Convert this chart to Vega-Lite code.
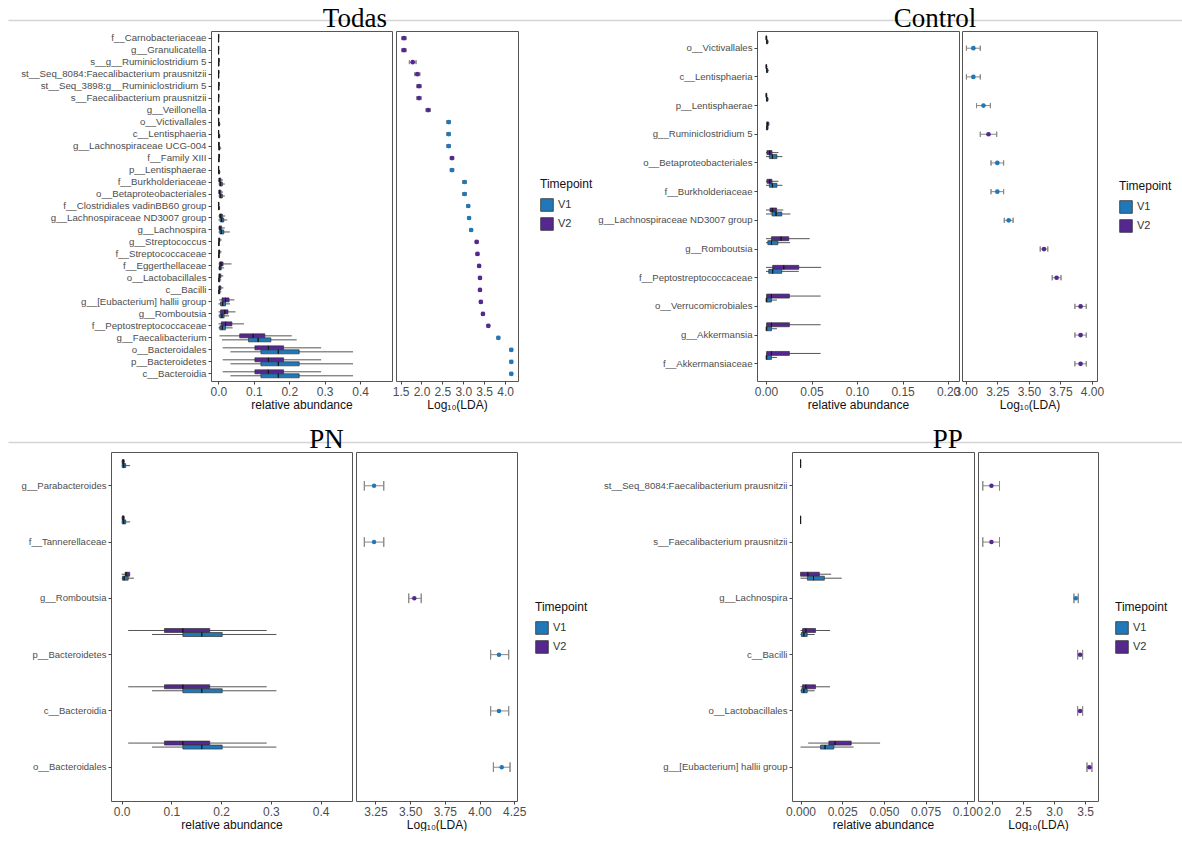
{
  "$schema": "https://vega.github.io/schema/vega-lite/v6.json",
  "padding": {"left": 8, "top": 4, "right": 0, "bottom": 0},
  "background": "white",
  "datasets": {
    "todas_box": [
      {"taxon": "f__Carnobacteriaceae", "tp": "V2", "min": 0, "q1": 0, "med": 0.0005, "q3": 0.001, "max": 0.002},
      {"taxon": "f__Carnobacteriaceae", "tp": "V1", "min": 0, "q1": 0, "med": 0.0003, "q3": 0.0008, "max": 0.0015},
      {"taxon": "g__Granulicatella", "tp": "V2", "min": 0, "q1": 0, "med": 0.0005, "q3": 0.001, "max": 0.002},
      {"taxon": "g__Granulicatella", "tp": "V1", "min": 0, "q1": 0, "med": 0.0003, "q3": 0.0008, "max": 0.0015},
      {"taxon": "s__g__Ruminiclostridium 5", "tp": "V2", "min": 0, "q1": 0.0005, "med": 0.001, "q3": 0.002, "max": 0.004},
      {"taxon": "s__g__Ruminiclostridium 5", "tp": "V1", "min": 0, "q1": 0, "med": 0.0005, "q3": 0.0015, "max": 0.003},
      {"taxon": "st__Seq_8084:Faecalibacterium prausnitzii", "tp": "V2", "min": 0, "q1": 0, "med": 0.0005, "q3": 0.0015, "max": 0.003},
      {"taxon": "st__Seq_8084:Faecalibacterium prausnitzii", "tp": "V1", "min": 0, "q1": 0, "med": 0.0003, "q3": 0.001, "max": 0.002},
      {"taxon": "st__Seq_3898:g__Ruminiclostridium 5", "tp": "V2", "min": 0, "q1": 0.0005, "med": 0.001, "q3": 0.002, "max": 0.004},
      {"taxon": "st__Seq_3898:g__Ruminiclostridium 5", "tp": "V1", "min": 0, "q1": 0, "med": 0.0005, "q3": 0.0015, "max": 0.003},
      {"taxon": "s__Faecalibacterium prausnitzii", "tp": "V2", "min": 0, "q1": 0, "med": 0.0005, "q3": 0.0015, "max": 0.003},
      {"taxon": "s__Faecalibacterium prausnitzii", "tp": "V1", "min": 0, "q1": 0, "med": 0.0003, "q3": 0.001, "max": 0.002},
      {"taxon": "g__Veillonella", "tp": "V2", "min": 0, "q1": 0.0005, "med": 0.001, "q3": 0.003, "max": 0.005},
      {"taxon": "g__Veillonella", "tp": "V1", "min": 0, "q1": 0, "med": 0.0005, "q3": 0.002, "max": 0.004},
      {"taxon": "o__Victivallales", "tp": "V2", "min": 0, "q1": 0, "med": 0.0003, "q3": 0.001, "max": 0.002},
      {"taxon": "o__Victivallales", "tp": "V1", "min": 0, "q1": 0.0005, "med": 0.001, "q3": 0.003, "max": 0.006},
      {"taxon": "c__Lentisphaeria", "tp": "V2", "min": 0, "q1": 0, "med": 0.0003, "q3": 0.001, "max": 0.002},
      {"taxon": "c__Lentisphaeria", "tp": "V1", "min": 0, "q1": 0.0005, "med": 0.001, "q3": 0.003, "max": 0.006},
      {"taxon": "g__Lachnospiraceae UCG-004", "tp": "V2", "min": 0, "q1": 0.0005, "med": 0.001, "q3": 0.002, "max": 0.004},
      {"taxon": "g__Lachnospiraceae UCG-004", "tp": "V1", "min": 0, "q1": 0.001, "med": 0.002, "q3": 0.004, "max": 0.008},
      {"taxon": "f__Family XIII", "tp": "V2", "min": 0, "q1": 0.001, "med": 0.002, "q3": 0.003, "max": 0.005},
      {"taxon": "f__Family XIII", "tp": "V1", "min": 0, "q1": 0.0005, "med": 0.001, "q3": 0.002, "max": 0.004},
      {"taxon": "p__Lentisphaerae", "tp": "V2", "min": 0, "q1": 0, "med": 0.0003, "q3": 0.001, "max": 0.002},
      {"taxon": "p__Lentisphaerae", "tp": "V1", "min": 0, "q1": 0.0005, "med": 0.001, "q3": 0.003, "max": 0.006},
      {"taxon": "f__Burkholderiaceae", "tp": "V2", "min": 0, "q1": 0.001, "med": 0.003, "q3": 0.007, "max": 0.013},
      {"taxon": "f__Burkholderiaceae", "tp": "V1", "min": 0, "q1": 0.003, "med": 0.006, "q3": 0.011, "max": 0.018},
      {"taxon": "o__Betaproteobacteriales", "tp": "V2", "min": 0, "q1": 0.001, "med": 0.003, "q3": 0.007, "max": 0.013},
      {"taxon": "o__Betaproteobacteriales", "tp": "V1", "min": 0, "q1": 0.003, "med": 0.006, "q3": 0.011, "max": 0.018},
      {"taxon": "f__Clostridiales vadinBB60 group", "tp": "V2", "min": 0, "q1": 0, "med": 0.0005, "q3": 0.001, "max": 0.003},
      {"taxon": "f__Clostridiales vadinBB60 group", "tp": "V1", "min": 0, "q1": 0.0005, "med": 0.001, "q3": 0.002, "max": 0.005},
      {"taxon": "g__Lachnospiraceae ND3007 group", "tp": "V2", "min": 0, "q1": 0.003, "med": 0.006, "q3": 0.011, "max": 0.019},
      {"taxon": "g__Lachnospiraceae ND3007 group", "tp": "V1", "min": 0, "q1": 0.005, "med": 0.009, "q3": 0.015, "max": 0.025},
      {"taxon": "g__Lachnospira", "tp": "V2", "min": 0, "q1": 0.002, "med": 0.004, "q3": 0.009, "max": 0.018},
      {"taxon": "g__Lachnospira", "tp": "V1", "min": 0, "q1": 0.004, "med": 0.008, "q3": 0.015, "max": 0.032},
      {"taxon": "g__Streptococcus", "tp": "V2", "min": 0, "q1": 0.001, "med": 0.002, "q3": 0.004, "max": 0.009},
      {"taxon": "g__Streptococcus", "tp": "V1", "min": 0, "q1": 0.0005, "med": 0.001, "q3": 0.002, "max": 0.004},
      {"taxon": "f__Streptococcaceae", "tp": "V2", "min": 0, "q1": 0.001, "med": 0.002, "q3": 0.004, "max": 0.009},
      {"taxon": "f__Streptococcaceae", "tp": "V1", "min": 0, "q1": 0.0005, "med": 0.001, "q3": 0.002, "max": 0.004},
      {"taxon": "f__Eggerthellaceae", "tp": "V2", "min": 0, "q1": 0.003, "med": 0.007, "q3": 0.013, "max": 0.037},
      {"taxon": "f__Eggerthellaceae", "tp": "V1", "min": 0, "q1": 0.002, "med": 0.004, "q3": 0.008, "max": 0.016},
      {"taxon": "o__Lactobacillales", "tp": "V2", "min": 0, "q1": 0.001, "med": 0.003, "q3": 0.007, "max": 0.014},
      {"taxon": "o__Lactobacillales", "tp": "V1", "min": 0, "q1": 0.0005, "med": 0.0015, "q3": 0.004, "max": 0.008},
      {"taxon": "c__Bacilli", "tp": "V2", "min": 0, "q1": 0.001, "med": 0.003, "q3": 0.007, "max": 0.014},
      {"taxon": "c__Bacilli", "tp": "V1", "min": 0, "q1": 0.0005, "med": 0.0015, "q3": 0.004, "max": 0.008},
      {"taxon": "g__[Eubacterium] hallii group", "tp": "V2", "min": 0.002, "q1": 0.01, "med": 0.02, "q3": 0.03, "max": 0.045},
      {"taxon": "g__[Eubacterium] hallii group", "tp": "V1", "min": 0, "q1": 0.006, "med": 0.012, "q3": 0.02, "max": 0.033},
      {"taxon": "g__Romboutsia", "tp": "V2", "min": 0, "q1": 0.006, "med": 0.018, "q3": 0.027, "max": 0.048},
      {"taxon": "g__Romboutsia", "tp": "V1", "min": 0, "q1": 0.004, "med": 0.01, "q3": 0.016, "max": 0.03},
      {"taxon": "f__Peptostreptococcaceae", "tp": "V2", "min": 0, "q1": 0.008, "med": 0.02, "q3": 0.038, "max": 0.072},
      {"taxon": "f__Peptostreptococcaceae", "tp": "V1", "min": 0, "q1": 0.004, "med": 0.011, "q3": 0.02, "max": 0.04},
      {"taxon": "g__Faecalibacterium", "tp": "V2", "min": 0.003, "q1": 0.06, "med": 0.098, "q3": 0.131, "max": 0.207},
      {"taxon": "g__Faecalibacterium", "tp": "V1", "min": 0.01, "q1": 0.085, "med": 0.112, "q3": 0.148, "max": 0.221},
      {"taxon": "o__Bacteroidales", "tp": "V2", "min": 0.012, "q1": 0.103, "med": 0.141, "q3": 0.184, "max": 0.29},
      {"taxon": "o__Bacteroidales", "tp": "V1", "min": 0.034, "q1": 0.12, "med": 0.169, "q3": 0.228, "max": 0.38},
      {"taxon": "p__Bacteroidetes", "tp": "V2", "min": 0.012, "q1": 0.103, "med": 0.141, "q3": 0.184, "max": 0.29},
      {"taxon": "p__Bacteroidetes", "tp": "V1", "min": 0.034, "q1": 0.12, "med": 0.169, "q3": 0.228, "max": 0.38},
      {"taxon": "c__Bacteroidia", "tp": "V2", "min": 0.012, "q1": 0.103, "med": 0.141, "q3": 0.184, "max": 0.29},
      {"taxon": "c__Bacteroidia", "tp": "V1", "min": 0.034, "q1": 0.12, "med": 0.169, "q3": 0.228, "max": 0.38}
    ],
    "todas_lda": [
      {"taxon": "f__Carnobacteriaceae", "tp": "V2", "lda": 1.58, "lo": 1.53, "hi": 1.63},
      {"taxon": "g__Granulicatella", "tp": "V2", "lda": 1.58, "lo": 1.53, "hi": 1.63},
      {"taxon": "s__g__Ruminiclostridium 5", "tp": "V2", "lda": 1.79, "lo": 1.71, "hi": 1.87},
      {"taxon": "st__Seq_8084:Faecalibacterium prausnitzii", "tp": "V2", "lda": 1.9, "lo": 1.84, "hi": 1.96},
      {"taxon": "st__Seq_3898:g__Ruminiclostridium 5", "tp": "V2", "lda": 1.94, "lo": 1.89, "hi": 1.99},
      {"taxon": "s__Faecalibacterium prausnitzii", "tp": "V2", "lda": 1.94, "lo": 1.89, "hi": 1.99},
      {"taxon": "g__Veillonella", "tp": "V2", "lda": 2.16, "lo": 2.11, "hi": 2.21},
      {"taxon": "o__Victivallales", "tp": "V1", "lda": 2.65, "lo": 2.61, "hi": 2.69},
      {"taxon": "c__Lentisphaeria", "tp": "V1", "lda": 2.65, "lo": 2.61, "hi": 2.69},
      {"taxon": "g__Lachnospiraceae UCG-004", "tp": "V1", "lda": 2.65, "lo": 2.61, "hi": 2.69},
      {"taxon": "f__Family XIII", "tp": "V2", "lda": 2.73, "lo": 2.69, "hi": 2.77},
      {"taxon": "p__Lentisphaerae", "tp": "V1", "lda": 2.73, "lo": 2.69, "hi": 2.77},
      {"taxon": "f__Burkholderiaceae", "tp": "V1", "lda": 3.03, "lo": 2.99, "hi": 3.07},
      {"taxon": "o__Betaproteobacteriales", "tp": "V1", "lda": 3.03, "lo": 2.99, "hi": 3.07},
      {"taxon": "f__Clostridiales vadinBB60 group", "tp": "V1", "lda": 3.12, "lo": 3.09, "hi": 3.15},
      {"taxon": "g__Lachnospiraceae ND3007 group", "tp": "V1", "lda": 3.14, "lo": 3.11, "hi": 3.17},
      {"taxon": "g__Lachnospira", "tp": "V1", "lda": 3.19, "lo": 3.16, "hi": 3.22},
      {"taxon": "g__Streptococcus", "tp": "V2", "lda": 3.32, "lo": 3.29, "hi": 3.35},
      {"taxon": "f__Streptococcaceae", "tp": "V2", "lda": 3.34, "lo": 3.31, "hi": 3.37},
      {"taxon": "f__Eggerthellaceae", "tp": "V2", "lda": 3.38, "lo": 3.35, "hi": 3.41},
      {"taxon": "o__Lactobacillales", "tp": "V2", "lda": 3.4, "lo": 3.37, "hi": 3.43},
      {"taxon": "c__Bacilli", "tp": "V2", "lda": 3.4, "lo": 3.37, "hi": 3.43},
      {"taxon": "g__[Eubacterium] hallii group", "tp": "V2", "lda": 3.42, "lo": 3.39, "hi": 3.45},
      {"taxon": "g__Romboutsia", "tp": "V2", "lda": 3.47, "lo": 3.44, "hi": 3.5},
      {"taxon": "f__Peptostreptococcaceae", "tp": "V2", "lda": 3.6, "lo": 3.57, "hi": 3.63},
      {"taxon": "g__Faecalibacterium", "tp": "V1", "lda": 3.84, "lo": 3.81, "hi": 3.87},
      {"taxon": "o__Bacteroidales", "tp": "V1", "lda": 4.15, "lo": 4.12, "hi": 4.18},
      {"taxon": "p__Bacteroidetes", "tp": "V1", "lda": 4.15, "lo": 4.12, "hi": 4.18},
      {"taxon": "c__Bacteroidia", "tp": "V1", "lda": 4.15, "lo": 4.12, "hi": 4.18}
    ],
    "control_box": [
      {"taxon": "o__Victivallales", "tp": "V2", "min": 0, "q1": 0, "med": 0.0003, "q3": 0.0008, "max": 0.0015},
      {"taxon": "o__Victivallales", "tp": "V1", "min": 0, "q1": 0.0005, "med": 0.001, "q3": 0.002, "max": 0.003},
      {"taxon": "c__Lentisphaeria", "tp": "V2", "min": 0, "q1": 0, "med": 0.0003, "q3": 0.0008, "max": 0.0015},
      {"taxon": "c__Lentisphaeria", "tp": "V1", "min": 0, "q1": 0.0005, "med": 0.001, "q3": 0.002, "max": 0.003},
      {"taxon": "p__Lentisphaerae", "tp": "V2", "min": 0, "q1": 0, "med": 0.0003, "q3": 0.0008, "max": 0.0015},
      {"taxon": "p__Lentisphaerae", "tp": "V1", "min": 0, "q1": 0.0005, "med": 0.001, "q3": 0.002, "max": 0.003},
      {"taxon": "g__Ruminiclostridium 5", "tp": "V2", "min": 0, "q1": 0.0008, "med": 0.0015, "q3": 0.003, "max": 0.004},
      {"taxon": "g__Ruminiclostridium 5", "tp": "V1", "min": 0, "q1": 0.0005, "med": 0.001, "q3": 0.002, "max": 0.003},
      {"taxon": "o__Betaproteobacteriales", "tp": "V2", "min": 0, "q1": 0.001, "med": 0.004, "q3": 0.0066, "max": 0.0136},
      {"taxon": "o__Betaproteobacteriales", "tp": "V1", "min": 0, "q1": 0.0037, "med": 0.007, "q3": 0.012, "max": 0.018},
      {"taxon": "f__Burkholderiaceae", "tp": "V2", "min": 0, "q1": 0.001, "med": 0.004, "q3": 0.0066, "max": 0.0136},
      {"taxon": "f__Burkholderiaceae", "tp": "V1", "min": 0, "q1": 0.0037, "med": 0.007, "q3": 0.012, "max": 0.018},
      {"taxon": "g__Lachnospiraceae ND3007 group", "tp": "V2", "min": 0, "q1": 0.0044, "med": 0.007, "q3": 0.0117, "max": 0.019},
      {"taxon": "g__Lachnospiraceae ND3007 group", "tp": "V1", "min": 0, "q1": 0.0066, "med": 0.011, "q3": 0.0173, "max": 0.0268},
      {"taxon": "g__Romboutsia", "tp": "V2", "min": 0, "q1": 0.006, "med": 0.0165, "q3": 0.025, "max": 0.048},
      {"taxon": "g__Romboutsia", "tp": "V1", "min": 0, "q1": 0.002, "med": 0.006, "q3": 0.013, "max": 0.0264},
      {"taxon": "f__Peptostreptococcaceae", "tp": "V2", "min": 0, "q1": 0.0073, "med": 0.0195, "q3": 0.036, "max": 0.0606},
      {"taxon": "f__Peptostreptococcaceae", "tp": "V1", "min": 0, "q1": 0.003, "med": 0.0073, "q3": 0.0173, "max": 0.036},
      {"taxon": "o__Verrucomicrobiales", "tp": "V2", "min": 0, "q1": 0.0007, "med": 0.006, "q3": 0.0257, "max": 0.06},
      {"taxon": "o__Verrucomicrobiales", "tp": "V1", "min": 0, "q1": 0, "med": 0.0007, "q3": 0.006, "max": 0.012},
      {"taxon": "g__Akkermansia", "tp": "V2", "min": 0, "q1": 0.0007, "med": 0.006, "q3": 0.0257, "max": 0.06},
      {"taxon": "g__Akkermansia", "tp": "V1", "min": 0, "q1": 0, "med": 0.0007, "q3": 0.006, "max": 0.012},
      {"taxon": "f__Akkermansiaceae", "tp": "V2", "min": 0, "q1": 0.0007, "med": 0.006, "q3": 0.0257, "max": 0.06},
      {"taxon": "f__Akkermansiaceae", "tp": "V1", "min": 0, "q1": 0, "med": 0.0007, "q3": 0.006, "max": 0.012}
    ],
    "control_lda": [
      {"taxon": "o__Victivallales", "tp": "V1", "lda": 3.06, "lo": 3.005, "hi": 3.115},
      {"taxon": "c__Lentisphaeria", "tp": "V1", "lda": 3.06, "lo": 3.005, "hi": 3.115},
      {"taxon": "p__Lentisphaerae", "tp": "V1", "lda": 3.14, "lo": 3.085, "hi": 3.195},
      {"taxon": "g__Ruminiclostridium 5", "tp": "V2", "lda": 3.18, "lo": 3.115, "hi": 3.245},
      {"taxon": "o__Betaproteobacteriales", "tp": "V1", "lda": 3.25, "lo": 3.2, "hi": 3.3},
      {"taxon": "f__Burkholderiaceae", "tp": "V1", "lda": 3.25, "lo": 3.2, "hi": 3.3},
      {"taxon": "g__Lachnospiraceae ND3007 group", "tp": "V1", "lda": 3.34, "lo": 3.305, "hi": 3.375},
      {"taxon": "g__Romboutsia", "tp": "V2", "lda": 3.62, "lo": 3.59, "hi": 3.65},
      {"taxon": "f__Peptostreptococcaceae", "tp": "V2", "lda": 3.72, "lo": 3.685, "hi": 3.755},
      {"taxon": "o__Verrucomicrobiales", "tp": "V2", "lda": 3.91, "lo": 3.865, "hi": 3.955},
      {"taxon": "g__Akkermansia", "tp": "V2", "lda": 3.91, "lo": 3.865, "hi": 3.955},
      {"taxon": "f__Akkermansiaceae", "tp": "V2", "lda": 3.91, "lo": 3.865, "hi": 3.955}
    ],
    "pn_box": [
      {"taxon": "g__Parabacteroides", "tp": "V2", "min": 0, "q1": 0.001, "med": 0.003, "q3": 0.005, "max": 0.006},
      {"taxon": "g__Parabacteroides", "tp": "V1", "min": 0, "q1": 0.001, "med": 0.004, "q3": 0.008, "max": 0.017},
      {"taxon": "f__Tannerellaceae", "tp": "V2", "min": 0, "q1": 0.001, "med": 0.003, "q3": 0.005, "max": 0.006},
      {"taxon": "f__Tannerellaceae", "tp": "V1", "min": 0, "q1": 0.001, "med": 0.004, "q3": 0.008, "max": 0.017},
      {"taxon": "g__Romboutsia", "tp": "V2", "min": 0, "q1": 0.007, "med": 0.009, "q3": 0.016, "max": 0.017},
      {"taxon": "g__Romboutsia", "tp": "V1", "min": 0, "q1": 0.0015, "med": 0.005, "q3": 0.013, "max": 0.0246},
      {"taxon": "p__Bacteroidetes", "tp": "V2", "min": 0.013, "q1": 0.086, "med": 0.123, "q3": 0.177, "max": 0.2915},
      {"taxon": "p__Bacteroidetes", "tp": "V1", "min": 0.061, "q1": 0.123, "med": 0.161, "q3": 0.202, "max": 0.311},
      {"taxon": "c__Bacteroidia", "tp": "V2", "min": 0.013, "q1": 0.086, "med": 0.123, "q3": 0.177, "max": 0.2915},
      {"taxon": "c__Bacteroidia", "tp": "V1", "min": 0.061, "q1": 0.123, "med": 0.161, "q3": 0.202, "max": 0.311},
      {"taxon": "o__Bacteroidales", "tp": "V2", "min": 0.013, "q1": 0.086, "med": 0.123, "q3": 0.177, "max": 0.2915},
      {"taxon": "o__Bacteroidales", "tp": "V1", "min": 0.061, "q1": 0.123, "med": 0.161, "q3": 0.202, "max": 0.311}
    ],
    "pn_lda": [
      {"taxon": "g__Parabacteroides", "tp": "V1", "lda": 3.24, "lo": 3.17, "hi": 3.31},
      {"taxon": "f__Tannerellaceae", "tp": "V1", "lda": 3.24, "lo": 3.17, "hi": 3.31},
      {"taxon": "g__Romboutsia", "tp": "V2", "lda": 3.53, "lo": 3.49, "hi": 3.58},
      {"taxon": "p__Bacteroidetes", "tp": "V1", "lda": 4.14, "lo": 4.08, "hi": 4.21},
      {"taxon": "c__Bacteroidia", "tp": "V1", "lda": 4.14, "lo": 4.08, "hi": 4.21},
      {"taxon": "o__Bacteroidales", "tp": "V1", "lda": 4.16, "lo": 4.1, "hi": 4.22}
    ],
    "pp_box": [
      {"taxon": "st__Seq_8084:Faecalibacterium prausnitzii", "tp": "V2", "min": 0, "q1": 0, "med": 0, "q3": 0.0002, "max": 0.0004},
      {"taxon": "st__Seq_8084:Faecalibacterium prausnitzii", "tp": "V1", "min": 0, "q1": 0, "med": 0, "q3": 0.0002, "max": 0.0004},
      {"taxon": "s__Faecalibacterium prausnitzii", "tp": "V2", "min": 0, "q1": 0, "med": 0, "q3": 0.0002, "max": 0.0004},
      {"taxon": "s__Faecalibacterium prausnitzii", "tp": "V1", "min": 0, "q1": 0, "med": 0, "q3": 0.0002, "max": 0.0004},
      {"taxon": "g__Lachnospira", "tp": "V2", "min": 0, "q1": 0, "med": 0.0044, "q3": 0.0113, "max": 0.0184},
      {"taxon": "g__Lachnospira", "tp": "V1", "min": 0, "q1": 0.0041, "med": 0.0078, "q3": 0.0143, "max": 0.0247},
      {"taxon": "c__Bacilli", "tp": "V2", "min": 0, "q1": 0.0012, "med": 0.0032, "q3": 0.009, "max": 0.0177},
      {"taxon": "c__Bacilli", "tp": "V1", "min": 0, "q1": 0.0005, "med": 0.002, "q3": 0.004, "max": 0.0085},
      {"taxon": "o__Lactobacillales", "tp": "V2", "min": 0, "q1": 0.0012, "med": 0.0032, "q3": 0.009, "max": 0.0177},
      {"taxon": "o__Lactobacillales", "tp": "V1", "min": 0, "q1": 0.0005, "med": 0.002, "q3": 0.004, "max": 0.0085},
      {"taxon": "g__[Eubacterium] hallii group", "tp": "V2", "min": 0.0046, "q1": 0.017, "med": 0.0207, "q3": 0.0304, "max": 0.0477},
      {"taxon": "g__[Eubacterium] hallii group", "tp": "V1", "min": 0, "q1": 0.012, "med": 0.0147, "q3": 0.02, "max": 0.0318}
    ],
    "pp_lda": [
      {"taxon": "st__Seq_8084:Faecalibacterium prausnitzii", "tp": "V2", "lda": 1.99, "lo": 1.85, "hi": 2.12},
      {"taxon": "s__Faecalibacterium prausnitzii", "tp": "V2", "lda": 1.99, "lo": 1.85, "hi": 2.12},
      {"taxon": "g__Lachnospira", "tp": "V1", "lda": 3.35, "lo": 3.32, "hi": 3.39},
      {"taxon": "c__Bacilli", "tp": "V2", "lda": 3.42, "lo": 3.38, "hi": 3.46},
      {"taxon": "o__Lactobacillales", "tp": "V2", "lda": 3.42, "lo": 3.38, "hi": 3.46},
      {"taxon": "g__[Eubacterium] hallii group", "tp": "V2", "lda": 3.57, "lo": 3.53, "hi": 3.61}
    ],
    "line": [{"a": 0}, {"a": 1}]
  },
  "resolve": {"scale": {"color": "independent", "x": "independent"}, "legend": {"color": "independent"}},
  "columns": 1,
  "spacing": 14,
  "concat": [
    {
      "columns": 1,
      "spacing": -16,
      "resolve": {"scale": {"color": "independent", "x": "independent"}, "legend": {"color": "independent"}},
      "concat": [
        {
          "width": 1174, "height": 1,
          "view": {"stroke": null},
          "data": {"name": "line"},
          "mark": {"type": "point", "opacity": 0, "size": 0},
          "encoding": {"x": {"field": "a", "type": "quantitative", "scale": {"domain": [0, 1], "nice": false}, "axis": {"orient": "bottom", "domain": true, "domainColor": "#d4d4d4", "domainWidth": 1.5, "ticks": false, "labels": false, "title": null}}}
        },
        {
          "spacing": 0,
          "resolve": {"scale": {"color": "independent"}, "legend": {"color": "independent"}},
          "hconcat": [
            {"width": 12, "height": 1, "view": {"stroke": null}, "data": {"name": "line"}, "mark": {"type": "point", "opacity": 0, "size": 0}, "encoding": {}},
            {
              "resolve": {"scale": {"color": "independent"}, "legend": {"color": "independent"}},
              "spacing": 3,
              "hconcat": [
                {
                  "title": {"text": "Todas", "dx": 48},
                  "spacing": 4,
                  "bounds": "flush",
                  "resolve": {"scale": {"color": "independent"}, "legend": {"color": "independent"}},
                  "hconcat": [
                    {
                      "width": 181, "height": 350,
                      "data": {"name": "todas_box"},
                      "encoding": {
                        "y": {"field": "taxon", "type": "nominal", "sort": null, "scale": {"paddingInner": 0, "paddingOuter": 0.1}, "axis": {"labelFontSize": 9.7}},
                        "yOffset": {"field": "tp", "type": "nominal", "sort": ["V2", "V1"], "scale": {"paddingInner": 0, "paddingOuter": 0.5}}
                      },
                      "layer": [
                        {"mark": {"type": "rule", "color": "#555", "strokeWidth": 1},
                         "encoding": {"x": {"field": "min", "type": "quantitative", "title": "relative abundance", "scale": {"domain": [-0.021, 0.49], "nice": false, "zero": false}, "axis": {"values": [0, 0.1, 0.2, 0.3, 0.4], "format": ".1f", "labelOverlap": false}}, "x2": {"field": "max"}}},
                        {"mark": {"type": "bar", "stroke": "#333", "strokeWidth": 0.7},
                         "encoding": {"x": {"field": "q1", "type": "quantitative"}, "x2": {"field": "q3"}, "color": {"field": "tp", "type": "nominal", "scale": {"domain": ["V1", "V2"], "range": ["#2078B8", "#55288F"]}, "legend": null}}},
                        {"mark": {"type": "bar", "fill": "#1a1a1a", "stroke": "#1a1a1a", "strokeWidth": 1},
                         "encoding": {"x": {"field": "med", "type": "quantitative"}, "x2": {"field": "med"}}}
                      ]
                    },
                    {
                      "width": 122, "height": 350,
                      "data": {"name": "todas_lda"},
                      "encoding": {
                        "y": {"field": "taxon", "type": "nominal", "sort": null, "scale": {"paddingInner": 0, "paddingOuter": 0.1}, "axis": null}
                      },
                      "layer": [
                        {"mark": {"type": "rule", "color": "#888", "strokeWidth": 1},
                         "encoding": {"x": {"field": "lo", "type": "quantitative", "title": "Log₁₀(LDA)", "scale": {"domain": [1.39, 4.31], "nice": false, "zero": false}, "axis": {"title": "Log₁₀(LDA)", "values": [1.5, 2, 2.5, 3, 3.5, 4], "format": ".1f", "labelOverlap": false}}, "x2": {"field": "hi"}}},
                        {"mark": {"type": "bar", "height": {"band": 0.33}, "fill": "#888", "stroke": "#888", "strokeWidth": 1}, "encoding": {"x": {"field": "lo", "type": "quantitative", "axis": {"title": "Log₁₀(LDA)", "values": [1.5, 2, 2.5, 3, 3.5, 4], "format": ".1f", "labelOverlap": false}}, "x2": {"field": "lo"}}},
                        {"mark": {"type": "bar", "height": {"band": 0.33}, "fill": "#888", "stroke": "#888", "strokeWidth": 1}, "encoding": {"x": {"field": "hi", "type": "quantitative", "axis": {"title": "Log₁₀(LDA)", "values": [1.5, 2, 2.5, 3, 3.5, 4], "format": ".1f", "labelOverlap": false}}, "x2": {"field": "hi"}}},
                        {"mark": {"type": "point", "filled": true, "opacity": 1, "size": 22},
                         "encoding": {"x": {"field": "lda", "type": "quantitative", "axis": {"title": "Log₁₀(LDA)", "values": [1.5, 2, 2.5, 3, 3.5, 4], "format": ".1f", "labelOverlap": false}}, "color": {"field": "tp", "type": "nominal", "scale": {"domain": ["V1", "V2"], "range": ["#2078B8", "#55288F"]}, "legend": {"title": "Timepoint", "orient": "none", "legendX": 144, "legendY": 148}}}}
                      ]
                    }
                  ]
                },
                {
                  "title": {"text": "Control", "dx": 50},
                  "spacing": 3,
                  "bounds": "flush",
                  "resolve": {"scale": {"color": "independent"}, "legend": {"color": "independent"}},
                  "hconcat": [
                    {
                      "width": 202, "height": 350,
                      "data": {"name": "control_box"},
                      "encoding": {
                        "y": {"field": "taxon", "type": "nominal", "sort": null, "scale": {"paddingInner": 0, "paddingOuter": 0.1}, "axis": {"labelFontSize": 9.6}},
                        "yOffset": {"field": "tp", "type": "nominal", "sort": ["V2", "V1"], "scale": {"paddingInner": 0, "paddingOuter": 1.26}}
                      },
                      "layer": [
                        {"mark": {"type": "rule", "color": "#555", "strokeWidth": 1},
                         "encoding": {"x": {"field": "min", "type": "quantitative", "title": "relative abundance", "scale": {"domain": [-0.0099, 0.212], "nice": false, "zero": false}, "axis": {"values": [0, 0.05, 0.1, 0.15, 0.2], "format": ".2f", "labelOverlap": false}}, "x2": {"field": "max"}}},
                        {"mark": {"type": "bar", "stroke": "#333", "strokeWidth": 0.7},
                         "encoding": {"x": {"field": "q1", "type": "quantitative"}, "x2": {"field": "q3"}, "color": {"field": "tp", "type": "nominal", "scale": {"domain": ["V1", "V2"], "range": ["#2078B8", "#55288F"]}, "legend": null}}},
                        {"mark": {"type": "bar", "fill": "#1a1a1a", "stroke": "#1a1a1a", "strokeWidth": 1},
                         "encoding": {"x": {"field": "med", "type": "quantitative"}, "x2": {"field": "med"}}}
                      ]
                    },
                    {
                      "width": 135, "height": 350,
                      "data": {"name": "control_lda"},
                      "encoding": {
                        "y": {"field": "taxon", "type": "nominal", "sort": null, "scale": {"paddingInner": 0, "paddingOuter": 0.1}, "axis": null}
                      },
                      "layer": [
                        {"mark": {"type": "rule", "color": "#888", "strokeWidth": 1},
                         "encoding": {"x": {"field": "lo", "type": "quantitative", "title": "Log₁₀(LDA)", "scale": {"domain": [2.97, 4.04], "nice": false, "zero": false}, "axis": {"title": "Log₁₀(LDA)", "values": [3, 3.25, 3.5, 3.75, 4], "format": ".2f", "labelOverlap": false}}, "x2": {"field": "hi"}}},
                        {"mark": {"type": "bar", "height": {"band": 0.18}, "fill": "#888", "stroke": "#888", "strokeWidth": 1}, "encoding": {"x": {"field": "lo", "type": "quantitative", "axis": {"title": "Log₁₀(LDA)", "values": [3, 3.25, 3.5, 3.75, 4], "format": ".2f", "labelOverlap": false}}, "x2": {"field": "lo"}}},
                        {"mark": {"type": "bar", "height": {"band": 0.18}, "fill": "#888", "stroke": "#888", "strokeWidth": 1}, "encoding": {"x": {"field": "hi", "type": "quantitative", "axis": {"title": "Log₁₀(LDA)", "values": [3, 3.25, 3.5, 3.75, 4], "format": ".2f", "labelOverlap": false}}, "x2": {"field": "hi"}}},
                        {"mark": {"type": "point", "filled": true, "opacity": 1, "size": 22},
                         "encoding": {"x": {"field": "lda", "type": "quantitative", "axis": {"title": "Log₁₀(LDA)", "values": [3, 3.25, 3.5, 3.75, 4], "format": ".2f", "labelOverlap": false}}, "color": {"field": "tp", "type": "nominal", "scale": {"domain": ["V1", "V2"], "range": ["#2078B8", "#55288F"]}, "legend": {"title": "Timepoint", "orient": "none", "legendX": 157, "legendY": 150}}}}
                      ]
                    }
                  ]
                }
              ]
            }
          ]
        }
      ]
    },
    {
      "columns": 1,
      "spacing": -17,
      "resolve": {"scale": {"color": "independent", "x": "independent"}, "legend": {"color": "independent"}},
      "concat": [
        {
          "width": 1174, "height": 1,
          "view": {"stroke": null},
          "data": {"name": "line"},
          "mark": {"type": "point", "opacity": 0, "size": 0},
          "encoding": {"x": {"field": "a", "type": "quantitative", "scale": {"domain": [0, 1], "nice": false}, "axis": {"orient": "bottom", "domain": true, "domainColor": "#d4d4d4", "domainWidth": 1.5, "ticks": false, "labels": false, "title": null}}}
        },
        {
          "spacing": 0,
          "resolve": {"scale": {"color": "independent"}, "legend": {"color": "independent"}},
          "hconcat": [
            {"width": 12, "height": 1, "view": {"stroke": null}, "data": {"name": "line"}, "mark": {"type": "point", "opacity": 0, "size": 0}, "encoding": {}},
            {
              "resolve": {"scale": {"color": "independent"}, "legend": {"color": "independent"}},
              "spacing": 14,
              "hconcat": [
                {
                  "title": {"text": "PN", "dx": 22},
                  "spacing": 4,
                  "bounds": "flush",
                  "resolve": {"scale": {"color": "independent"}, "legend": {"color": "independent"}},
                  "hconcat": [
                    {
                      "width": 241, "height": 349,
                      "data": {"name": "pn_box"},
                      "encoding": {
                        "y": {"field": "taxon", "type": "nominal", "sort": null, "scale": {"paddingInner": 0, "paddingOuter": 0.1}, "axis": {"labelFontSize": 9.5}},
                        "yOffset": {"field": "tp", "type": "nominal", "sort": ["V2", "V1"], "scale": {"paddingInner": 0, "paddingOuter": 1.15}}
                      },
                      "layer": [
                        {"mark": {"type": "rule", "color": "#555", "strokeWidth": 1},
                         "encoding": {"x": {"field": "min", "type": "quantitative", "title": "relative abundance", "scale": {"domain": [-0.0215, 0.463], "nice": false, "zero": false}, "axis": {"values": [0, 0.1, 0.2, 0.3, 0.4], "format": ".1f", "labelOverlap": false}}, "x2": {"field": "max"}}},
                        {"mark": {"type": "bar", "stroke": "#333", "strokeWidth": 0.7},
                         "encoding": {"x": {"field": "q1", "type": "quantitative"}, "x2": {"field": "q3"}, "color": {"field": "tp", "type": "nominal", "scale": {"domain": ["V1", "V2"], "range": ["#2078B8", "#55288F"]}, "legend": null}}},
                        {"mark": {"type": "bar", "fill": "#1a1a1a", "stroke": "#1a1a1a", "strokeWidth": 1},
                         "encoding": {"x": {"field": "med", "type": "quantitative"}, "x2": {"field": "med"}}}
                      ]
                    },
                    {
                      "width": 161, "height": 349,
                      "data": {"name": "pn_lda"},
                      "encoding": {
                        "y": {"field": "taxon", "type": "nominal", "sort": null, "scale": {"paddingInner": 0, "paddingOuter": 0.1}, "axis": null}
                      },
                      "layer": [
                        {"mark": {"type": "rule", "color": "#888", "strokeWidth": 1},
                         "encoding": {"x": {"field": "lo", "type": "quantitative", "title": "Log₁₀(LDA)", "scale": {"domain": [3.11, 4.27], "nice": false, "zero": false}, "axis": {"title": "Log₁₀(LDA)", "values": [3.25, 3.5, 3.75, 4, 4.25], "format": ".2f", "labelOverlap": false}}, "x2": {"field": "hi"}}},
                        {"mark": {"type": "bar", "height": {"band": 0.17}, "fill": "#888", "stroke": "#888", "strokeWidth": 1}, "encoding": {"x": {"field": "lo", "type": "quantitative", "axis": {"title": "Log₁₀(LDA)", "values": [3.25, 3.5, 3.75, 4, 4.25], "format": ".2f", "labelOverlap": false}}, "x2": {"field": "lo"}}},
                        {"mark": {"type": "bar", "height": {"band": 0.17}, "fill": "#888", "stroke": "#888", "strokeWidth": 1}, "encoding": {"x": {"field": "hi", "type": "quantitative", "axis": {"title": "Log₁₀(LDA)", "values": [3.25, 3.5, 3.75, 4, 4.25], "format": ".2f", "labelOverlap": false}}, "x2": {"field": "hi"}}},
                        {"mark": {"type": "point", "filled": true, "opacity": 1, "size": 20},
                         "encoding": {"x": {"field": "lda", "type": "quantitative", "axis": {"title": "Log₁₀(LDA)", "values": [3.25, 3.5, 3.75, 4, 4.25], "format": ".2f", "labelOverlap": false}}, "color": {"field": "tp", "type": "nominal", "scale": {"domain": ["V1", "V2"], "range": ["#2078B8", "#55288F"]}, "legend": {"title": "Timepoint", "orient": "none", "legendX": 179, "legendY": 150}}}}
                      ]
                    }
                  ]
                },
                {
                  "title": {"text": "PP", "dx": 62},
                  "spacing": 4,
                  "bounds": "flush",
                  "resolve": {"scale": {"color": "independent"}, "legend": {"color": "independent"}},
                  "hconcat": [
                    {
                      "width": 182, "height": 349,
                      "data": {"name": "pp_box"},
                      "encoding": {
                        "y": {"field": "taxon", "type": "nominal", "sort": null, "scale": {"paddingInner": 0, "paddingOuter": 0.1}, "axis": {"labelFontSize": 9.6}},
                        "yOffset": {"field": "tp", "type": "nominal", "sort": ["V2", "V1"], "scale": {"paddingInner": 0, "paddingOuter": 1.15}}
                      },
                      "layer": [
                        {"mark": {"type": "rule", "color": "#555", "strokeWidth": 1},
                         "encoding": {"x": {"field": "min", "type": "quantitative", "title": "relative abundance", "scale": {"domain": [-0.0051, 0.104], "nice": false, "zero": false}, "axis": {"values": [0, 0.025, 0.05, 0.075, 0.1], "format": ".3f", "labelOverlap": false}}, "x2": {"field": "max"}}},
                        {"mark": {"type": "bar", "stroke": "#333", "strokeWidth": 0.7},
                         "encoding": {"x": {"field": "q1", "type": "quantitative"}, "x2": {"field": "q3"}, "color": {"field": "tp", "type": "nominal", "scale": {"domain": ["V1", "V2"], "range": ["#2078B8", "#55288F"]}, "legend": null}}},
                        {"mark": {"type": "bar", "fill": "#1a1a1a", "stroke": "#1a1a1a", "strokeWidth": 1},
                         "encoding": {"x": {"field": "med", "type": "quantitative"}, "x2": {"field": "med"}}}
                      ]
                    },
                    {
                      "width": 120, "height": 349,
                      "data": {"name": "pp_lda"},
                      "encoding": {
                        "y": {"field": "taxon", "type": "nominal", "sort": null, "scale": {"paddingInner": 0, "paddingOuter": 0.1}, "axis": null}
                      },
                      "layer": [
                        {"mark": {"type": "rule", "color": "#888", "strokeWidth": 1},
                         "encoding": {"x": {"field": "lo", "type": "quantitative", "title": "Log₁₀(LDA)", "scale": {"domain": [1.773, 3.708], "nice": false, "zero": false}, "axis": {"title": "Log₁₀(LDA)", "values": [2, 2.5, 3, 3.5], "format": ".1f", "labelOverlap": false}}, "x2": {"field": "hi"}}},
                        {"mark": {"type": "bar", "height": {"band": 0.17}, "fill": "#888", "stroke": "#888", "strokeWidth": 1}, "encoding": {"x": {"field": "lo", "type": "quantitative", "axis": {"title": "Log₁₀(LDA)", "values": [2, 2.5, 3, 3.5], "format": ".1f", "labelOverlap": false}}, "x2": {"field": "lo"}}},
                        {"mark": {"type": "bar", "height": {"band": 0.17}, "fill": "#888", "stroke": "#888", "strokeWidth": 1}, "encoding": {"x": {"field": "hi", "type": "quantitative", "axis": {"title": "Log₁₀(LDA)", "values": [2, 2.5, 3, 3.5], "format": ".1f", "labelOverlap": false}}, "x2": {"field": "hi"}}},
                        {"mark": {"type": "point", "filled": true, "opacity": 1, "size": 20},
                         "encoding": {"x": {"field": "lda", "type": "quantitative", "axis": {"title": "Log₁₀(LDA)", "values": [2, 2.5, 3, 3.5], "format": ".1f", "labelOverlap": false}}, "color": {"field": "tp", "type": "nominal", "scale": {"domain": ["V1", "V2"], "range": ["#2078B8", "#55288F"]}, "legend": {"title": "Timepoint", "orient": "none", "legendX": 137, "legendY": 150}}}}
                      ]
                    }
                  ]
                }
              ]
            }
          ]
        }
      ]
    }
  ],
  "config": {
    "font": "Liberation Sans",
    "view": {"stroke": "#555", "strokeWidth": 1},
    "axis": {"grid": false, "domain": false, "tickColor": "#444", "tickSize": 3, "labelColor": "#4d4d4d", "labelFont": "Liberation Sans", "titleFont": "Liberation Sans", "titleFontWeight": "normal", "titleColor": "#111", "labelOverlap": false, "labelFlush": false, "labelBound": false},
    "axisX": {"labelFontSize": 12, "titleFontSize": 12, "labelPadding": 2, "titlePadding": 2, "labelOverlap": false},
    "axisQuantitative": {"labelOverlap": false},
    "axisY": {"title": null, "labelPadding": 2, "labelLimit": 400},
    "legend": {"titleFontSize": 12, "titleFontWeight": "normal", "titleColor": "#111", "labelFontSize": 11, "labelColor": "#333", "symbolType": "square", "symbolSize": 160, "symbolStrokeColor": "#333", "symbolStrokeWidth": 0.8, "padding": 0, "rowPadding": 3, "titlePadding": 7},
    "title": {"font": "Liberation Serif", "fontSize": 27, "fontWeight": "normal", "color": "#000", "anchor": "middle", "offset": -2, "baseline": "alphabetic"}
  }
}
